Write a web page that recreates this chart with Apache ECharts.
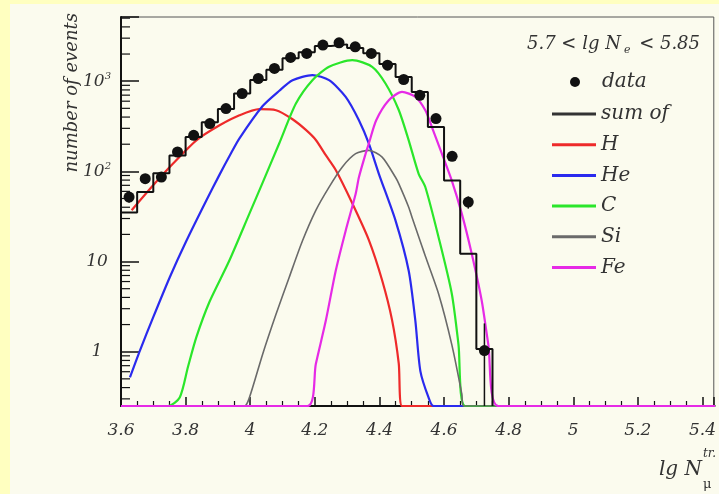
<!DOCTYPE html>
<html><head><meta charset="utf-8">
<script src="https://cdn.jsdelivr.net/npm/echarts@6/dist/echarts.min.js"></script>
<style>html,body{margin:0;padding:0;background:#fbfbee;}#c{width:719px;height:494px;}</style>
</head><body><div id="c"></div>
<script>
// ---- data ----
const binCenters = [3.625,3.675,3.725,3.775,3.825,3.875,3.925,3.975,4.025,4.075,4.125,4.175,4.225,4.275,4.325,4.375,4.425,4.475,4.525,4.575,4.625,4.675,4.725];
const dataCounts = [51.8,83,86.5,164,251,339,497,730,1071,1384,1833,2032,2512,2666,2405,2032,1506,1044,698,385,147,45.6,1.03];
const dataErrors = [7,9,9,13,16,18,22,27,33,37,43,45,50,52,49,45,39,32,26,20,12,7,1.03];
const binEdges = [3.6,3.65,3.7,3.75,3.8,3.85,3.9,3.95,4.0,4.05,4.1,4.15,4.2,4.25,4.3,4.35,4.4,4.45,4.5,4.55,4.6,4.65,4.7,4.75];
const sumCounts = [35,59,95,150,240,350,490,730,1030,1340,1800,2100,2450,2560,2340,2040,1550,1116,760,310,79,12.2,1.07,0];
const curveH = [[3.633,37],[3.6995,70],[3.7612,122],[3.8333,221],[3.9051,324],[3.9667,419],[4.0284,489],[4.0798,476],[4.131,378],[4.1723,288],[4.2031,223],[4.2339,151],[4.2647,103.5],[4.3159,44.3],[4.3673,17.3],[4.4083,6.2],[4.4391,2.24],[4.4598,0.74],[4.47,0],[5.5,0]];
const curveHe = [[3.6277,0.52],[3.6586,1.03],[3.6995,2.4],[3.751,6.7],[3.8025,17],[3.8641,47.6],[3.9051,92],[3.9359,148],[3.9667,232],[4.0385,530],[4.09,783],[4.131,1024],[4.1926,1170],[4.2441,1026],[4.2955,670],[4.3365,369],[4.3673,203],[4.3982,94],[4.4496,28.6],[4.4906,7.9],[4.5112,2.2],[4.5267,0.61],[4.5522,0.31],[4.5676,0],[5.5,0]];
const curveC = [[3.6,0],[3.7458,0],[3.7818,0.31],[3.8074,0.68],[3.8333,1.45],[3.8743,3.6],[3.934,10],[3.9975,34],[4.0385,75],[4.09,205],[4.1414,565],[4.1926,1026],[4.2441,1443],[4.3159,1711],[4.3775,1443],[4.4188,943],[4.4598,479],[4.4906,221],[4.5214,94],[4.542,67],[4.583,18.6],[4.624,4.4],[4.6447,1.2],[4.6653,0],[5.5,0]];
const curveSi = [[3.6,0],[3.9821,0],[3.9975,0.31],[4.0385,0.94],[4.0798,2.6],[4.1208,6.7],[4.1618,17],[4.2031,37],[4.2441,67],[4.2851,112],[4.3263,157],[4.3673,171],[4.4083,144],[4.4496,86],[4.4598,73],[4.4906,40],[4.5008,31],[4.5316,14.8],[4.542,11.5],[4.583,4.4],[4.624,1.2],[4.6549,0.34],[4.6601,0],[5.5,0]];
const curveFe = [[3.6,0],[4.1772,0],[4.2031,0.73],[4.2339,2.2],[4.2647,7.9],[4.2955,22],[4.3263,56],[4.3365,86],[4.3572,157],[4.3673,204],[4.39,369],[4.429,615],[4.47,760],[4.5112,670],[4.542,476],[4.5624,310],[4.5932,157],[4.624,79],[4.6549,34],[4.6857,12.2],[4.7165,3.7],[4.7371,1.2],[4.768,0],[5.5,0]];
const xTickLabels = ['3.6','3.8','4','4.2','4.4','4.6','4.8','5','5.2','5.4'];
const pointLegend = ['data'];
const lineLegend = ['sum of','H','He','C','Si','Fe'];
const headerText = ['5.7 < lg N', 'e', ' < 5.85'];

// ---- styles ----
const xMin = 3.6, xMax = 5.435;
const yMin = 0.25, yMax = 5150;
const FONT = 'DejaVu Serif';
const TXT = '#333';
const colors = {H:'#ee2a2a', He:'#2a2aee', C:'#2ae62a', Si:'#6a6a6a', Fe:'#e62ae6'};
const clampPts = arr => arr.map(([x,v]) => [x, Math.max(v, yMin)]);

const minorVals = [];
for (let e = -1; e <= 3; e++) for (let m = 2; m <= 9; m++) {
  const v = m * Math.pow(10, e);
  if (v > yMin && v < yMax) minorVals.push([xMin, v]);
}

function curve(name, pts, width) {
  return {type:'line', name, data: clampPts(pts), smooth:0.25, symbol:'none',
    lineStyle:{color:colors[name], width}, itemStyle:{color:colors[name]}, silent:true, z:3};
}
const legendText = {fontFamily:FONT, fontStyle:'italic', fontSize:20, color:TXT, lineHeight:20};

const chart = echarts.init(document.getElementById('c'), null, {renderer:'canvas'});
chart.setOption({
  backgroundColor:'#fbfbee',
  animation:false,
  grid:{left:121, top:17, right:0, height:389, show:true, borderColor:'#555', borderWidth:1, backgroundColor:'transparent'},
  xAxis:{type:'value', min:xMin, max:xMax, interval:0.2,
    axisLine:{lineStyle:{color:'#111', width:2}},
    axisTick:{inside:true, length:9, lineStyle:{color:'#111', width:1.5}},
    minorTick:{show:true, splitNumber:4, length:5, lineStyle:{color:'#111', width:1.2}},
    splitLine:{show:false}, minorSplitLine:{show:false},
    axisLabel:{margin:16, color:TXT, fontFamily:FONT, fontStyle:'italic', fontSize:17, showMaxLabel:false,
      formatter: v => { const i = Math.round((v-3.6)/0.2); return (Math.abs(v-(3.6+0.2*i))<1e-6 && i>=0 && i<xTickLabels.length) ? xTickLabels[i] : ''; }}
  },
  yAxis:{type:'log', logBase:10, min:yMin, max:yMax,
    axisLine:{show:true, lineStyle:{color:'#111', width:2}},
    axisTick:{show:true, inside:true, length:18, lineStyle:{color:'#111', width:1.5}},
    splitLine:{show:false},
    axisLabel:{margin:24, align:'center', color:TXT,
      formatter: v => { const l = Math.log10(v), e = Math.round(l); if (Math.abs(l-e) > 1e-6) return '';
        if (e === 0) return '{b|1}'; if (e === 1) return '{b|10}'; return '{b|10}{s|' + e + '}'; },
      rich:{b:{fontFamily:FONT, fontStyle:'italic', fontSize:17, color:TXT, lineHeight:20},
            s:{fontFamily:FONT, fontStyle:'italic', fontSize:10, color:TXT, lineHeight:20, verticalAlign:'top'}}}
  },
  legend:[
    {left:565, top:67, orient:'vertical', itemWidth:44, itemHeight:10, selectedMode:false,
      data: pointLegend.map(n => ({name:n, icon:'circle'})), textStyle:legendText},
    {left:547, top:99, orient:'vertical', itemWidth:44, itemHeight:3, itemGap:10.7, selectedMode:false,
      data: lineLegend.map(n => ({name:n, icon:'rect'})), textStyle:legendText}
  ],
  graphic:[
    {type:'rect', left:0, top:0, shape:{width:10, height:494}, style:{fill:'#ffffc0'}, silent:true},
    {type:'rect', left:0, top:0, shape:{width:719, height:4}, style:{fill:'#ffffc0'}, silent:true},
    {type:'text', x:72, y:13, rotation:Math.PI/2, silent:true,
      style:{text:'number of events', align:'right', verticalAlign:'middle', fill:TXT, font:'italic 18px "DejaVu Serif"'}},
    {type:'text', x:527, y:44, silent:true,
      style:{text:'{t|'+headerText[0]+'}{u|'+headerText[1]+'}{t|'+headerText[2]+'}', align:'left', verticalAlign:'middle',
        rich:{t:{fontFamily:FONT, fontStyle:'italic', fontSize:18, fill:TXT, lineHeight:24},
              u:{fontFamily:FONT, fontStyle:'italic', fontSize:11, fill:TXT, lineHeight:24, verticalAlign:'bottom', padding:[0,3,0,3]}}}},
    {type:'text', x:702, y:470, silent:true, style:{text:'lg N', align:'right', verticalAlign:'middle', fill:TXT, font:'italic 20px "DejaVu Serif"'}},
    {type:'text', x:703, y:454, silent:true, style:{text:'tr.', align:'left', verticalAlign:'middle', fill:TXT, font:'italic 12px "DejaVu Serif"'}},
    {type:'text', x:703, y:485, silent:true, style:{text:'μ', align:'left', verticalAlign:'middle', fill:TXT, font:'13px "DejaVu Serif"'}}
  ],
  series:[
    {type:'custom', name:'yminor', silent:true, z:4, data:minorVals,
      renderItem:(p, api) => { const c = api.coord([api.value(0), api.value(1)]);
        return {type:'line', shape:{x1:c[0], y1:c[1], x2:c[0]+9, y2:c[1]}, style:{stroke:'#111', lineWidth:1.2}}; }},
    curve('H', curveH, 2.2),
    curve('He', curveHe, 2.2),
    curve('C', curveC, 2.2),
    curve('Si', curveSi, 1.6),
    curve('Fe', curveFe, 2.2),
    {type:'line', name:'sum of', step:'end', symbol:'none', silent:true, z:4,
      data: binEdges.map((x,i) => [x, Math.max(sumCounts[i], yMin)]),
      lineStyle:{color:'#111', width:2}, itemStyle:{color:'#333'}},
    {type:'custom', name:'errors', silent:true, z:5,
      data: binCenters.map((x,i) => [x, Math.max(dataCounts[i]-dataErrors[i], yMin), dataCounts[i]+dataErrors[i]]),
      renderItem:(p, api) => { const a = api.coord([api.value(0), api.value(1)]), b = api.coord([api.value(0), api.value(2)]);
        return {type:'line', shape:{x1:a[0], y1:a[1], x2:b[0], y2:b[1]}, style:{stroke:'#111', lineWidth:1.5}}; }},
    {type:'scatter', name:'data', symbol:'circle', symbolSize:11, silent:true, z:6,
      data: binCenters.map((x,i) => [x, dataCounts[i]]), itemStyle:{color:'#111', opacity:1}}
  ]
});
</script></body></html>
